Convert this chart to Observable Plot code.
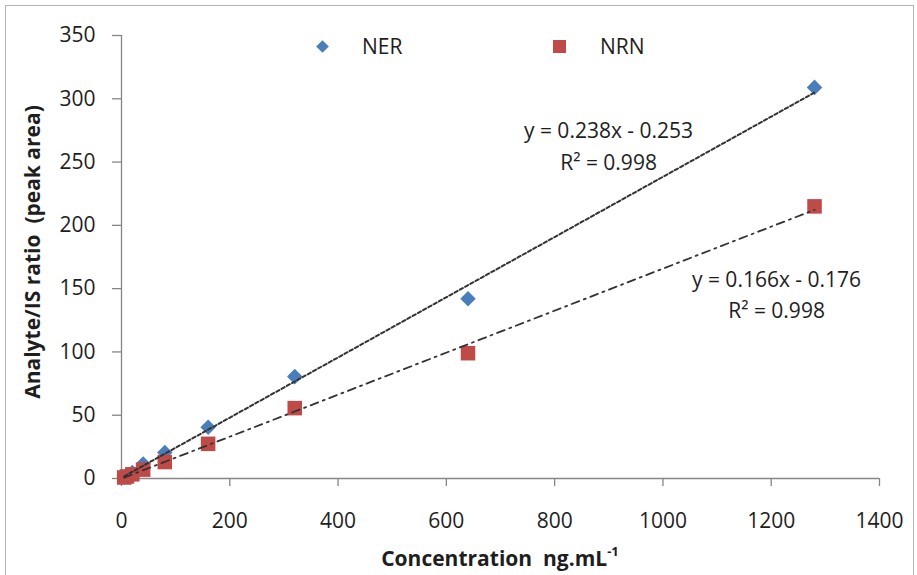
<!DOCTYPE html>
<html>
<head>
<meta charset="utf-8">
<script src="https://cdn.jsdelivr.net/npm/d3@7"></script>
<script src="https://cdn.jsdelivr.net/npm/@observablehq/plot@0.6"></script>
<style>
  body { margin: 0; background: #fff; }
  #wrap { position: relative; width: 917px; height: 575px; overflow: hidden; background: #fff;
          font-family: 'Open Sans', sans-serif; color: #1e1e1e; }
  #frame { position: absolute; left: 5px; top: 5px; width: 907px; height: 620px; border: 1.5px solid #b4b4b4; }
  #chart { position: absolute; left: 0; top: 0; }
  .title { position: absolute; font-weight: bold; font-size: 21px; white-space: nowrap; }
  .leg { position: absolute; font-size: 21px; line-height: 1; }
</style>
</head>
<body>
<div id="wrap">
  <div id="frame"></div>
  <div id="chart"></div>
</div>
<script>
// ---- data ----
const concentrations = [5, 10, 20, 40, 80, 160, 320, 640, 1280];
const nerValues = [1.2, 2.4, 4.8, 11.5, 20.5, 40.5, 80.5, 142, 309];
const nrnValues = [0.8, 1.6, 3.3, 7.0, 13.0, 27.4, 55.6, 99, 215];
const seriesNames = ["NER", "NRN"];
const seriesColors = ["#4a7ebb", "#be4b48"];
const equationLabels = ["y = 0.238x - 0.253", "y = 0.166x - 0.176"];
const r2Labels = ["R\u00b2 = 0.998", "R\u00b2 = 0.998"];
const xTicks = [0, 200, 400, 600, 800, 1000, 1200, 1400];
const yTicks = [0, 50, 100, 150, 200, 250, 300, 350];
const xTitle = "Concentration&nbsp;&nbsp;ng.mL<sup style='font-size:13px;position:relative;top:-2px'>-1</sup>";
const yTitle = "Analyte/IS ratio\u00a0 (peak area)";

const nerRows = concentrations.map((c, i) => ({c, v: nerValues[i], s: seriesNames[0]}));
const nrnRows = concentrations.map((c, i) => ({c, v: nrnValues[i], s: seriesNames[1]}));
const nerLast = [nerRows[nerRows.length - 1]];
const nrnLast = [nrnRows[nrnRows.length - 1]];

const axisColor = "#868686";

const chart = Plot.plot({
  width: 917,
  height: 575,
  marginLeft: 121,
  marginRight: 38,
  marginTop: 35,
  marginBottom: 97,
  x: {domain: [0, 1400]},
  y: {domain: [0, 350]},
  style: {fontFamily: "'Open Sans', sans-serif", fontSize: "21px", color: "#1e1e1e", background: "transparent", overflow: "visible"},
  marks: [
    Plot.axisX({ticks: xTicks, tickFormat: d => String(d), tickSize: 8, tickPadding: 27, stroke: axisColor, strokeWidth: 1.3, fill: "#1e1e1e", label: null}),
    Plot.axisY({ticks: yTicks, tickFormat: d => String(d), tickSize: 9, tickPadding: 17, stroke: axisColor, strokeWidth: 1.3, fill: "#1e1e1e", label: null}),
    Plot.ruleY([0], {stroke: axisColor, strokeWidth: 1.3}),
    Plot.ruleX([0], {stroke: axisColor, strokeWidth: 1.3}),
    Plot.dot(nerRows, {x: "c", y: "v", symbol: "diamond2", r: 7, fill: seriesColors[0], stroke: "none"}),
    Plot.dot(nrnRows, {x: "c", y: "v", symbol: "square", r: 8.2, fill: seriesColors[1], stroke: "none"}),
    Plot.linearRegressionY(nerRows, {x: "c", y: "v", ci: 0, stroke: "#333", strokeWidth: 2, strokeDasharray: "3.5,2.5"}),
    Plot.linearRegressionY(nrnRows, {x: "c", y: "v", ci: 0, stroke: "#333", strokeWidth: 1.8, strokeDasharray: "8,5,2,5"}),
    Plot.text(nerLast, {x: "c", y: "v", text: () => equationLabels[0], dx: -206, dy: 44, fill: "#1e1e1e"}),
    Plot.text(nerLast, {x: "c", y: "v", text: () => r2Labels[0], dx: -206, dy: 76, fill: "#1e1e1e"}),
    Plot.text(nrnLast, {x: "c", y: "v", text: () => equationLabels[1], dx: -38, dy: 74, fill: "#1e1e1e"}),
    Plot.text(nrnLast, {x: "c", y: "v", text: () => r2Labels[1], dx: -38, dy: 105, fill: "#1e1e1e"})
  ]
});
document.getElementById("chart").appendChild(chart);

const wrap = document.getElementById("wrap");
// axis titles
const xt = document.createElement("div");
xt.className = "title";
xt.innerHTML = xTitle;
xt.style.left = "500px"; xt.style.top = "558px"; xt.style.transform = "translate(-50%,-50%)";
wrap.appendChild(xt);
const yt = document.createElement("div");
yt.className = "title";
yt.textContent = yTitle;
yt.style.left = "32px"; yt.style.top = "252px"; yt.style.transform = "translate(-50%,-50%) rotate(-90deg)";
wrap.appendChild(yt);

// legend
const legendPos = [{mx: 322, tx: 362}, {mx: 559, tx: 600}];
seriesNames.forEach((name, i) => {
  const m = document.createElement("div");
  m.style.position = "absolute";
  m.style.background = seriesColors[i];
  if (i === 0) {
    m.style.width = "9px"; m.style.height = "9px";
    m.style.left = (legendPos[i].mx - 4.5) + "px"; m.style.top = (46 - 4.5) + "px";
    m.style.transform = "rotate(45deg)";
  } else {
    m.style.width = "13px"; m.style.height = "13px";
    m.style.left = (legendPos[i].mx - 6.5) + "px"; m.style.top = (46 - 6.5) + "px";
  }
  wrap.appendChild(m);
  const t = document.createElement("div");
  t.className = "leg";
  t.textContent = name;
  t.style.left = legendPos[i].tx + "px"; t.style.top = "46px"; t.style.transform = "translateY(-50%)";
  wrap.appendChild(t);
});
</script>
</body>
</html>
